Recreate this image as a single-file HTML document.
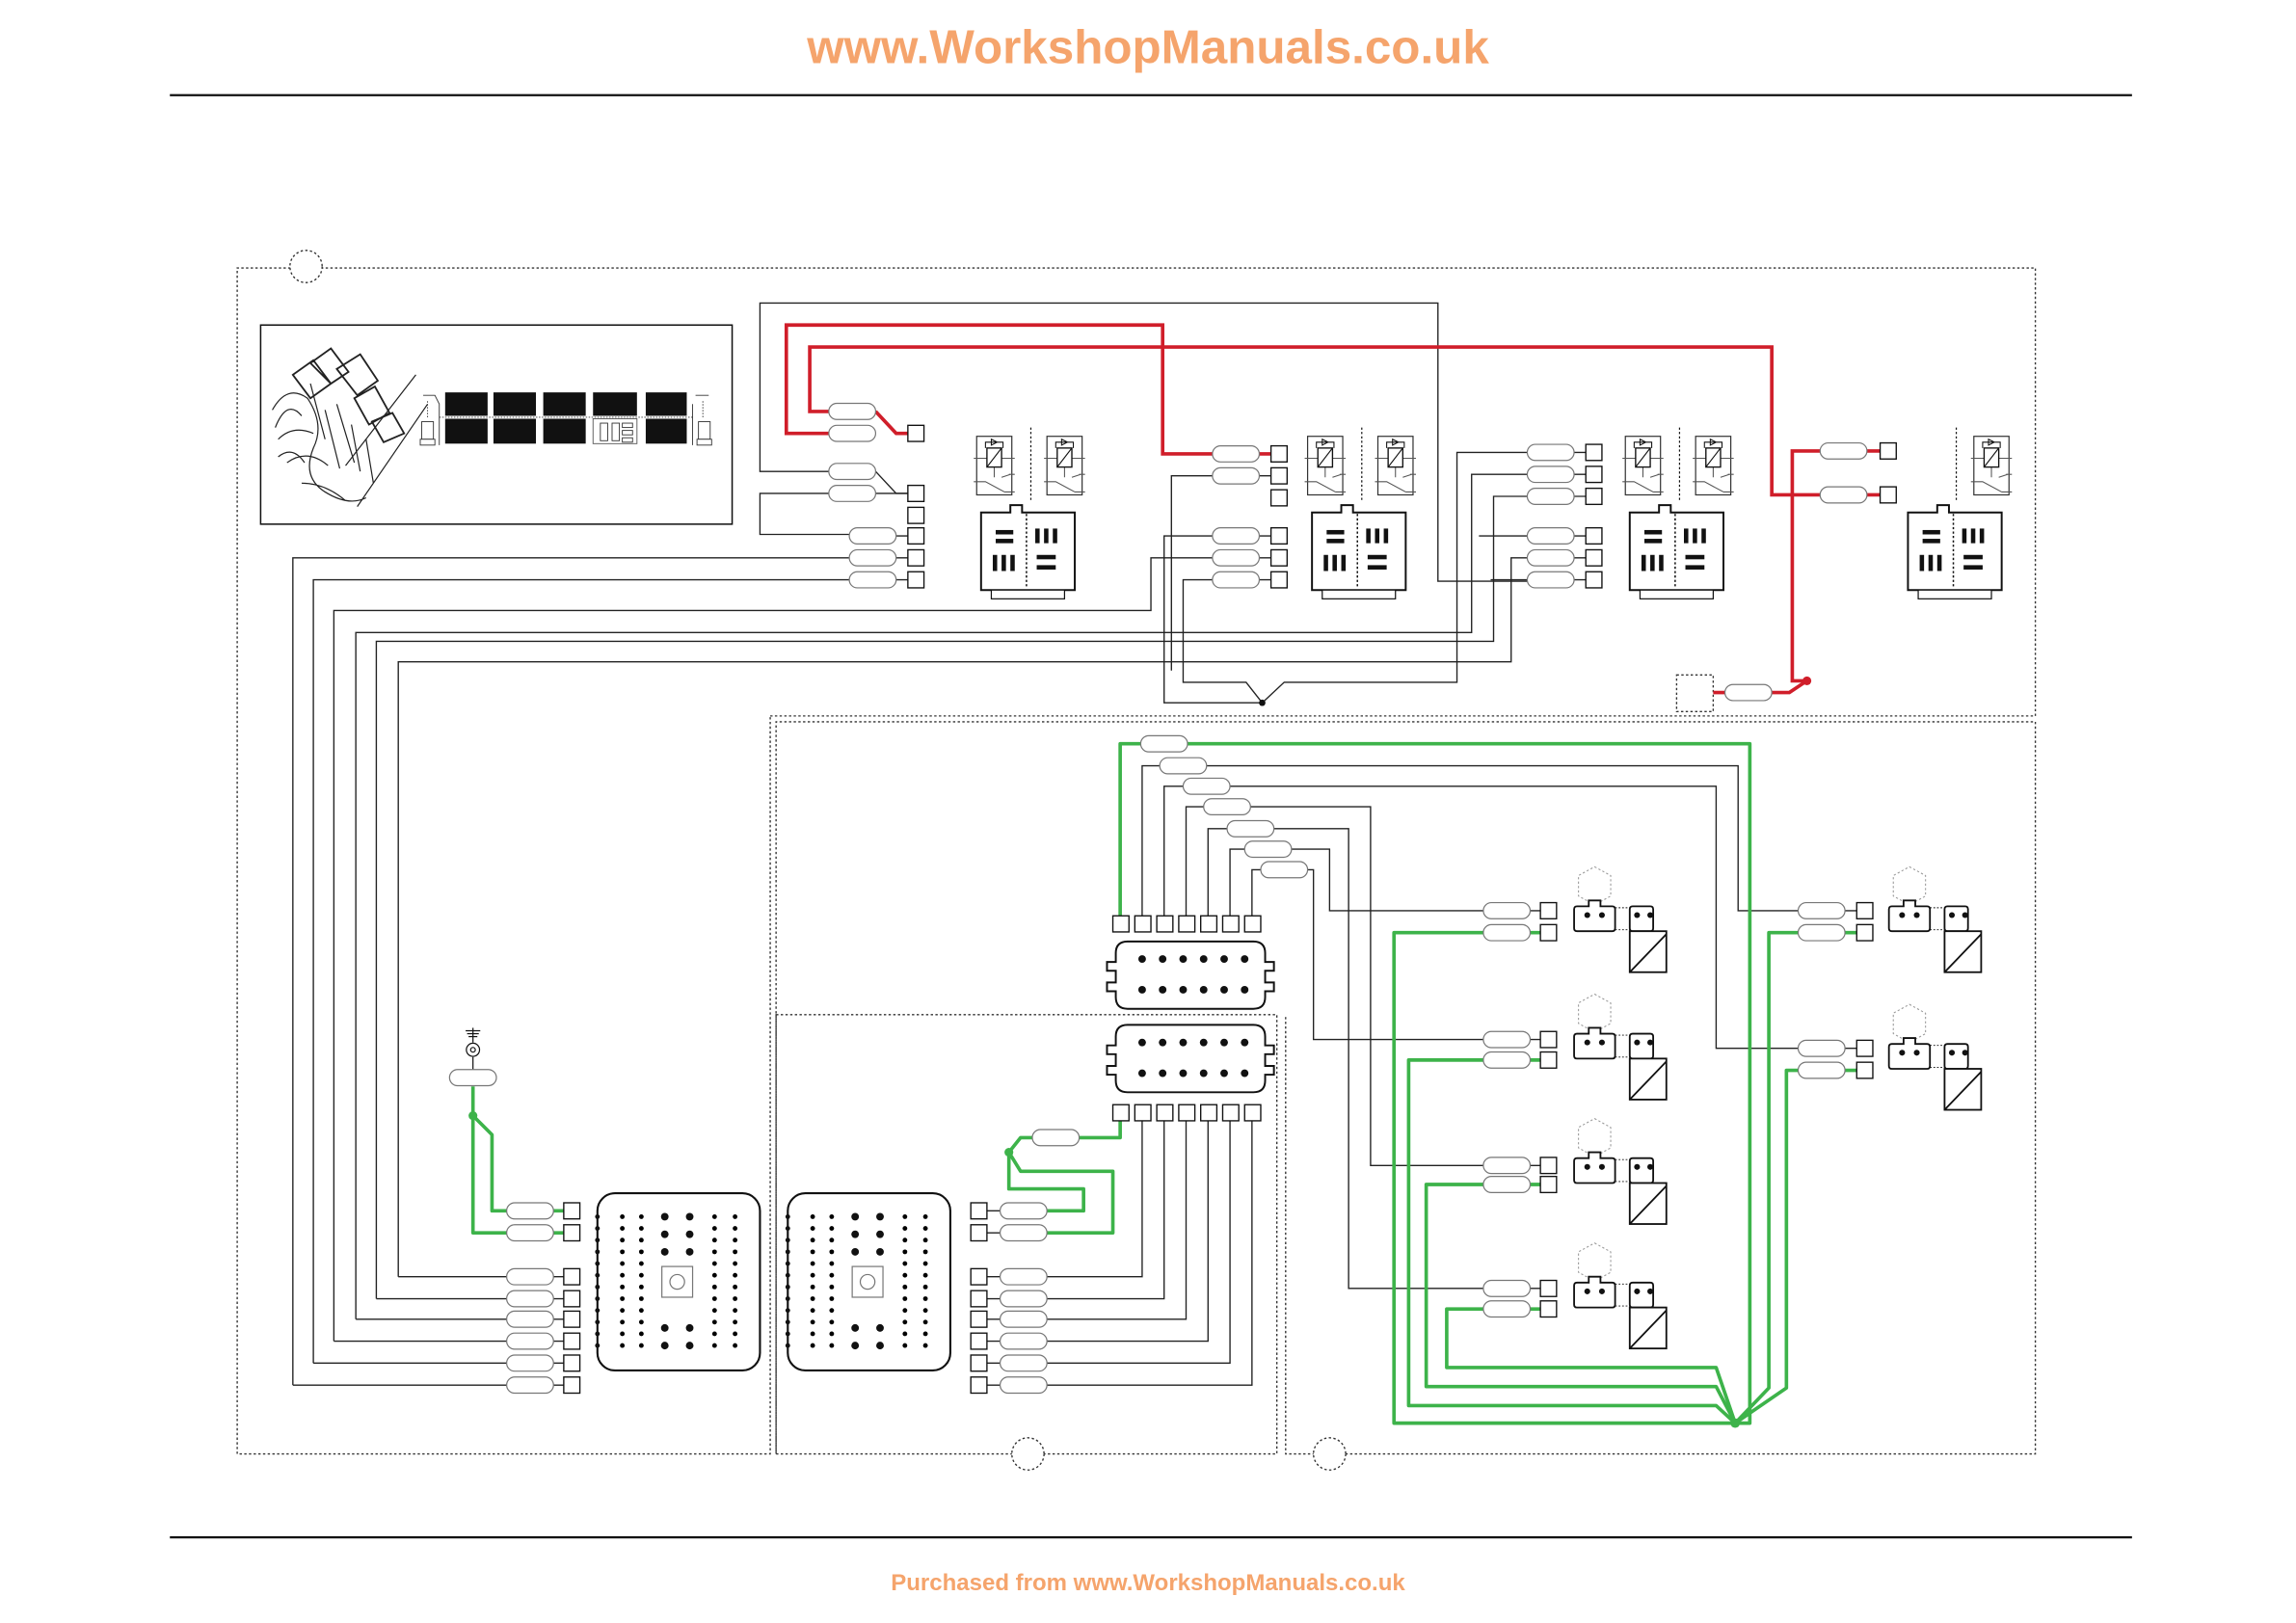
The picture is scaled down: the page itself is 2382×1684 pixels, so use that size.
<!DOCTYPE html>
<html><head><meta charset="utf-8"><style>
html,body{margin:0;padding:0;background:#fff;}
svg{display:block;}
</style></head><body>
<svg width="2382" height="1684" viewBox="0 0 1568 1108.5" preserveAspectRatio="none" xmlns="http://www.w3.org/2000/svg" font-family="Liberation Sans, Arial, sans-serif">
<defs>
<symbol id="pill" overflow="visible"><rect x="0" y="-5.5" width="32" height="11" rx="5.5" fill="#fff" stroke="#777" stroke-width="0.8"/></symbol>
<symbol id="sq" overflow="visible"><rect x="0" y="-5.5" width="11" height="11" fill="#fff" stroke="#111" stroke-width="0.9"/></symbol>
<symbol id="relay" overflow="visible">
<rect x="0" y="0" width="24" height="40" fill="#fff" stroke="#333" stroke-width="0.8"/>
<path d="M-2,15H7M17,15H26M12,21V28M-2,31H6L19,38M17,28L23,26M19,38H26M22,26H26" stroke="#555" stroke-width="0.7" fill="none"/>
<rect x="7" y="8" width="10" height="13" fill="#fff" stroke="#111" stroke-width="0.9"/>
<path d="M7,21L17,8M6,8V4H18V8M10,2L14,4L10,6Z" stroke="#111" stroke-width="0.7" fill="none"/>
</symbol>
<symbol id="base" overflow="visible">
<path d="M0,5H20V0H28V5H64V58H0Z" fill="#fff" stroke="#111" stroke-width="1.3"/>
<line x1="31" y1="6" x2="31" y2="57" stroke="#111" stroke-width="1" stroke-dasharray="1.5,1.5"/>
<rect x="10" y="17" width="12" height="3" fill="#111"/><rect x="10" y="23" width="12" height="3" fill="#111"/>
<rect x="37" y="16" width="3" height="10" fill="#111"/><rect x="43" y="16" width="3" height="10" fill="#111"/><rect x="49" y="16" width="3" height="10" fill="#111"/>
<rect x="8" y="34" width="3" height="11" fill="#111"/><rect x="14" y="34" width="3" height="11" fill="#111"/><rect x="20" y="34" width="3" height="11" fill="#111"/>
<rect x="38" y="34" width="13" height="3" fill="#111"/><rect x="38" y="41" width="13" height="3" fill="#111"/>
<rect x="7" y="58" width="50" height="6" fill="#fff" stroke="#111" stroke-width="0.8"/>
</symbol>
<symbol id="motor" overflow="visible">
<polygon points="0,-28 11,-22 11,-8 0,-2 -11,-8 -11,-22" fill="none" stroke="#999" stroke-width="0.7" stroke-dasharray="1.5,1.5"/>
<path d="M-12,-1H-4V-5H4V-1H12Q14,-1 14,1V14Q14,16 12,16H-12Q-14,16 -14,14V1Q-14,-1 -12,-1Z" fill="#fff" stroke="#111" stroke-width="1.2"/>
<circle cx="-5" cy="5" r="2" fill="#111"/><circle cx="5" cy="5" r="2" fill="#111"/>
<path d="M26,-1H38Q40,-1 40,1V14Q40,16 38,16H26Q24,16 24,14V1Q24,-1 26,-1Z" fill="#fff" stroke="#111" stroke-width="1.2"/>
<circle cx="29" cy="5" r="2" fill="#111"/><circle cx="38" cy="5" r="2" fill="#111"/>
<path d="M14,0H24M14,15H24" stroke="#111" stroke-width="0.6" stroke-dasharray="1.2,1.2"/>
<rect x="24" y="16" width="25" height="28" fill="#fff" stroke="#111" stroke-width="1.2"/>
<line x1="24" y1="44" x2="49" y2="18" stroke="#111" stroke-width="1.2"/>
</symbol>
<symbol id="plug" overflow="visible">
<path d="M10,0H96Q104,0 104,8V14H110V20H104V28H110V34H104V38Q104,46 96,46H10Q2,46 2,38V34H-4V28H2V20H-4V14H2V8Q2,0 10,0Z" fill="#fff" stroke="#111" stroke-width="1.3"/>
<g fill="#111"><circle cx="20" cy="12" r="2.6"/><circle cx="34" cy="12" r="2.6"/><circle cx="48" cy="12" r="2.6"/><circle cx="62" cy="12" r="2.6"/><circle cx="76" cy="12" r="2.6"/><circle cx="90" cy="12" r="2.6"/>
<circle cx="20" cy="33" r="2.6"/><circle cx="34" cy="33" r="2.6"/><circle cx="48" cy="33" r="2.6"/><circle cx="62" cy="33" r="2.6"/><circle cx="76" cy="33" r="2.6"/><circle cx="90" cy="33" r="2.6"/></g>
</symbol>
<symbol id="ecu" overflow="visible">
<rect x="0" y="0" width="111" height="121" rx="12" fill="#fff" stroke="#111" stroke-width="1.4"/>
<g fill="#111">
<g id="col"><circle cx="0" cy="16" r="1.6"/><circle cx="0" cy="24" r="1.6"/><circle cx="0" cy="32" r="1.6"/><circle cx="0" cy="40" r="1.6"/><circle cx="0" cy="48" r="1.6"/><circle cx="0" cy="56" r="1.6"/><circle cx="0" cy="64" r="1.6"/><circle cx="0" cy="72" r="1.6"/><circle cx="0" cy="80" r="1.6"/><circle cx="0" cy="88" r="1.6"/><circle cx="0" cy="96" r="1.6"/><circle cx="0" cy="104" r="1.6"/></g>
</g>
<use href="#col" x="17"/><use href="#col" x="30"/><use href="#col" x="80"/><use href="#col" x="94"/>
<g fill="#111"><circle cx="46" cy="16" r="2.6"/><circle cx="63" cy="16" r="2.6"/><circle cx="46" cy="28" r="2.6"/><circle cx="63" cy="28" r="2.6"/><circle cx="46" cy="40" r="2.6"/><circle cx="63" cy="40" r="2.6"/><circle cx="46" cy="92" r="2.6"/><circle cx="63" cy="92" r="2.6"/><circle cx="46" cy="104" r="2.6"/><circle cx="63" cy="104" r="2.6"/></g>
<rect x="44" y="50" width="21" height="21" fill="#fff" stroke="#777" stroke-width="0.8"/><circle cx="54.5" cy="60.5" r="5" fill="none" stroke="#777" stroke-width="0.8"/>
</symbol>
</defs>

<text x="784" y="43" text-anchor="middle" font-size="32.5" font-weight="bold" fill="#f5a46c">www.WorkshopManuals.co.uk</text>
<line x1="116" y1="65" x2="1456" y2="65" stroke="#111" stroke-width="1.5"/>
<line x1="116" y1="1050" x2="1456" y2="1050" stroke="#111" stroke-width="1.5"/>
<text x="784" y="1086" text-anchor="middle" font-size="15.8" font-weight="bold" fill="#f5a46c">Purchased from www.WorkshopManuals.co.uk</text>

<g fill="none" stroke="#333" stroke-width="0.9" stroke-dasharray="1.6,1.6">
<path d="M526,489H1390V183H162V993H526V489"/>
<path d="M530,993V493H1390V993H878V693"/>
<rect x="530" y="693" width="342" height="300"/>
<rect x="1145" y="461" width="25" height="25"/>
</g>
<g fill="#fff" stroke="#333" stroke-width="0.9" stroke-dasharray="1.6,1.6">
<circle cx="209" cy="182" r="11"/><circle cx="702" cy="993" r="11"/><circle cx="908" cy="993" r="11"/>
</g>

<rect x="178" y="222" width="322" height="136" fill="#fff" stroke="#111" stroke-width="1"/>
<g fill="none" stroke="#222" stroke-width="0.8">
<path d="M200,256L214,246L226,262L212,272ZM212,248L226,238L238,254L226,262ZM230,252L246,242L258,260L244,270ZM242,272L256,264L266,282L252,290ZM254,288L268,282L276,296L262,302Z" fill="#fff" stroke-width="1.2"/>
<path d="M186,280Q196,262 210,272Q222,290 214,306Q206,326 222,336Q238,346 250,340M190,300Q200,290 214,296M196,316Q210,306 224,318M206,330Q222,330 236,342M284,256L236,318M292,276L244,346M222,280L232,320M230,276L242,316M240,290L246,322M212,262L222,300M250,300L255,330M188,292Q196,272 206,284M190,312Q200,304 208,316"/>
</g>
<g fill="#111">
<rect x="304" y="268" width="29" height="16"/><rect x="337" y="268" width="29" height="16"/><rect x="371" y="268" width="29" height="16"/><rect x="405" y="268" width="30" height="16"/><rect x="441" y="268" width="28" height="16"/>
<rect x="304" y="286" width="29" height="17"/><rect x="337" y="286" width="29" height="17"/><rect x="371" y="286" width="29" height="17"/><rect x="441" y="286" width="28" height="17"/>
</g>
<rect x="405" y="286" width="30" height="17" fill="#fff" stroke="#555" stroke-width="0.6"/>
<g stroke="#333" stroke-width="0.6" fill="#fff">
<rect x="410" y="289" width="5" height="12"/><rect x="418" y="289" width="5" height="12"/><rect x="425" y="289" width="7" height="3"/><rect x="425" y="294" width="7" height="3"/><rect x="425" y="299" width="7" height="3"/>
<rect x="288" y="288" width="8" height="12"/><rect x="477" y="288" width="8" height="12"/>
<rect x="287" y="300" width="10" height="4"/><rect x="476" y="300" width="10" height="4"/>
<path d="M289,270H297L300,276V304M475,270H484M473,276V304" fill="none"/>
<path d="M292,274V286M480,274V286" stroke-dasharray="1,1" fill="none"/>
<line x1="300" y1="285" x2="474" y2="285" stroke-dasharray="1,1"/>
</g>

<g fill="none" stroke="#222" stroke-width="0.9">
<path d="M566,322H519V207H982V397H1043"/>
<path d="M566,337H519V365H580"/>
<path d="M598,322L612,337H620"/>
<path d="M598,337H620M612,366H620M612,381H620M612,396H620"/>
<path d="M200,946V381H580"/>
<path d="M214,931V396H580"/>
<path d="M228,916V417H786V381H828"/>
<path d="M243,901V432H1005V324H1043"/>
<path d="M257,887V438H1020V339H1043"/>
<path d="M272,872V452H1032V381H1043"/>
<path d="M862,480L851,466H808V396H828"/>
<path d="M862,480H795V366H828"/>
<path d="M862,480L877,466H995V309H1043"/>
<path d="M1010,366H1043M1018,396H1043"/>
<path d="M860,310H868M860,325H868M860,366H868M860,381H868M860,396H868"/>
<path d="M828,325H800V458"/>
<path d="M1075,309H1083M1075,324H1083M1075,339H1083M1075,366H1083M1075,381H1083M1075,396H1083"/>
</g>
<circle cx="862" cy="480" r="2.2" fill="#111"/>

<g fill="none" stroke="#d01e2a" stroke-width="2.4">
<path d="M566,296H537V222H794V310H828"/>
<path d="M566,281H553V237H1210V338H1243"/>
<path d="M598,281L612,296H620"/>
<path d="M860,310H868"/>
<path d="M1243,308H1224V465L1234,465"/>
<path d="M1275,308H1284M1275,338H1284"/>
<path d="M1234,465L1222,473H1210"/>
<path d="M1178,473H1170"/>
</g>
<circle cx="1234" cy="465" r="3" fill="#d01e2a"/>

<use href="#pill" x="566" y="281"/><use href="#pill" x="566" y="296"/><use href="#pill" x="566" y="322"/><use href="#pill" x="566" y="337"/>
<use href="#pill" x="580" y="366"/><use href="#pill" x="580" y="381"/><use href="#pill" x="580" y="396"/>
<use href="#sq" x="620" y="296"/><use href="#sq" x="620" y="337"/><use href="#sq" x="620" y="352"/><use href="#sq" x="620" y="366"/><use href="#sq" x="620" y="381"/><use href="#sq" x="620" y="396"/>
<use href="#pill" x="828" y="310"/><use href="#pill" x="828" y="325"/><use href="#pill" x="828" y="366"/><use href="#pill" x="828" y="381"/><use href="#pill" x="828" y="396"/>
<use href="#sq" x="868" y="310"/><use href="#sq" x="868" y="325"/><use href="#sq" x="868" y="340"/><use href="#sq" x="868" y="366"/><use href="#sq" x="868" y="381"/><use href="#sq" x="868" y="396"/>
<use href="#pill" x="1043" y="309"/><use href="#pill" x="1043" y="324"/><use href="#pill" x="1043" y="339"/><use href="#pill" x="1043" y="366"/><use href="#pill" x="1043" y="381"/><use href="#pill" x="1043" y="396"/>
<use href="#sq" x="1083" y="309"/><use href="#sq" x="1083" y="324"/><use href="#sq" x="1083" y="339"/><use href="#sq" x="1083" y="366"/><use href="#sq" x="1083" y="381"/><use href="#sq" x="1083" y="396"/>
<use href="#pill" x="1243" y="308"/><use href="#pill" x="1243" y="338"/>
<use href="#sq" x="1284" y="308"/><use href="#sq" x="1284" y="338"/>
<use href="#pill" x="1178" y="473"/>

<use href="#relay" x="667" y="298"/><use href="#relay" x="715" y="298"/>
<use href="#relay" x="893" y="298"/><use href="#relay" x="941" y="298"/>
<use href="#relay" x="1110" y="298"/><use href="#relay" x="1158" y="298"/>
<use href="#relay" x="1348" y="298"/>
<g stroke="#111" stroke-width="0.8" stroke-dasharray="1.5,1.5">
<line x1="704" y1="292" x2="704" y2="342"/><line x1="930" y1="292" x2="930" y2="342"/><line x1="1147" y1="292" x2="1147" y2="342"/><line x1="1336" y1="292" x2="1336" y2="342"/>
</g>
<use href="#base" x="670" y="345"/><use href="#base" x="896" y="345"/><use href="#base" x="1113" y="345"/><use href="#base" x="1303" y="345"/>

<g fill="none" stroke="#222" stroke-width="0.9">
<path d="M780,626V523H792M824,523H1187V622H1228"/>
<path d="M795,626V537H808M840,537H1172V716H1228"/>
<path d="M810,626V551H822M854,551H936V796H1013"/>
<path d="M825,626V566H838M870,566H921V880H1013"/>
<path d="M840,626V580H850M882,580H908V622H1013"/>
<path d="M855,626V594H861M893,594H897V710H1013"/>
<path d="M1045,622H1052M1045,710H1052M1045,796H1052M1045,880H1052M1260,622H1268M1260,716H1268"/>
<path d="M780,765V872H715M795,765V887H715M810,765V901H715M825,765V916H715M840,765V931H715M855,765V946H715"/>
<path d="M674,872H683M674,887H683M674,901H683M674,916H683M674,931H683M674,946H683M674,827H683M674,842H683"/>
<path d="M378,872H385M378,887H385M378,901H385M378,916H385M378,931H385M378,946H385"/>
<path d="M272,872H346M257,887H346M243,901H346M228,916H346M214,931H346M200,946H346"/>
</g>

<g fill="none" stroke="#3db34a" stroke-width="2.4" stroke-linejoin="round">
<path d="M765,626V508H779M811,508H1195V972L1185,972"/>
<path d="M1013,637H952V972H1185"/>
<path d="M1013,724H962V960H1172L1185,972"/>
<path d="M1013,809H974V947H1172L1185,972"/>
<path d="M1013,894H988V934H1172L1185,972"/>
<path d="M1228,637H1208V948L1185,972"/>
<path d="M1228,731H1220V948L1185,972"/>
<path d="M1045,637H1052M1045,724H1052M1045,809H1052M1045,894H1052M1260,637H1268M1260,731H1268"/>
<path d="M765,765V777H737M705,777H697L689,787"/>
<path d="M689,787L697,800H760V842H715"/>
<path d="M689,787V812H740V827H715"/>
<path d="M323,742V762V842H346M323,762L336,775V827H346"/>
<path d="M378,827H385M378,842H385"/>
</g>
<circle cx="1185" cy="972" r="3.2" fill="#3db34a"/>
<circle cx="689" cy="787" r="3" fill="#3db34a"/>
<circle cx="323" cy="762" r="3" fill="#3db34a"/>

<g stroke="#111" stroke-width="0.8" fill="none">
<line x1="323" y1="702" x2="323" y2="712"/><line x1="318" y1="704" x2="328" y2="704"/><line x1="319" y1="706" x2="327" y2="706"/><line x1="320" y1="708" x2="326" y2="708"/>
<circle cx="323" cy="717" r="4.5"/><circle cx="323" cy="717" r="1.6"/>
<line x1="323" y1="722" x2="323" y2="731"/>
</g>
<use href="#pill" x="307" y="736"/>

<use href="#pill" x="779" y="508"/><use href="#pill" x="792" y="523"/><use href="#pill" x="808" y="537"/><use href="#pill" x="822" y="551"/><use href="#pill" x="838" y="566"/><use href="#pill" x="850" y="580"/><use href="#pill" x="861" y="594"/>
<use href="#sq" x="760" y="631"/><use href="#sq" x="775" y="631"/><use href="#sq" x="790" y="631"/><use href="#sq" x="805" y="631"/><use href="#sq" x="820" y="631"/><use href="#sq" x="835" y="631"/><use href="#sq" x="850" y="631"/>
<use href="#plug" x="760" y="643"/>
<use href="#plug" x="760" y="700"/>
<use href="#sq" x="760" y="760"/><use href="#sq" x="775" y="760"/><use href="#sq" x="790" y="760"/><use href="#sq" x="805" y="760"/><use href="#sq" x="820" y="760"/><use href="#sq" x="835" y="760"/><use href="#sq" x="850" y="760"/>
<use href="#pill" x="705" y="777"/>

<use href="#pill" x="1013" y="622"/><use href="#pill" x="1013" y="637"/><use href="#sq" x="1052" y="622"/><use href="#sq" x="1052" y="637"/>
<use href="#pill" x="1013" y="710"/><use href="#pill" x="1013" y="724"/><use href="#sq" x="1052" y="710"/><use href="#sq" x="1052" y="724"/>
<use href="#pill" x="1013" y="796"/><use href="#pill" x="1013" y="809"/><use href="#sq" x="1052" y="796"/><use href="#sq" x="1052" y="809"/>
<use href="#pill" x="1013" y="880"/><use href="#pill" x="1013" y="894"/><use href="#sq" x="1052" y="880"/><use href="#sq" x="1052" y="894"/>
<use href="#pill" x="1228" y="622"/><use href="#pill" x="1228" y="637"/><use href="#sq" x="1268" y="622"/><use href="#sq" x="1268" y="637"/>
<use href="#pill" x="1228" y="716"/><use href="#pill" x="1228" y="731"/><use href="#sq" x="1268" y="716"/><use href="#sq" x="1268" y="731"/>

<use href="#motor" x="1089" y="620"/><use href="#motor" x="1089" y="707"/><use href="#motor" x="1089" y="792"/><use href="#motor" x="1089" y="877"/>
<use href="#motor" x="1304" y="620"/><use href="#motor" x="1304" y="714"/>

<use href="#ecu" x="408" y="815"/><use href="#ecu" x="538" y="815"/>
<use href="#pill" x="346" y="827"/><use href="#pill" x="346" y="842"/><use href="#pill" x="346" y="872"/><use href="#pill" x="346" y="887"/><use href="#pill" x="346" y="901"/><use href="#pill" x="346" y="916"/><use href="#pill" x="346" y="931"/><use href="#pill" x="346" y="946"/>
<use href="#sq" x="385" y="827"/><use href="#sq" x="385" y="842"/><use href="#sq" x="385" y="872"/><use href="#sq" x="385" y="887"/><use href="#sq" x="385" y="901"/><use href="#sq" x="385" y="916"/><use href="#sq" x="385" y="931"/><use href="#sq" x="385" y="946"/>
<use href="#sq" x="663" y="827"/><use href="#sq" x="663" y="842"/><use href="#sq" x="663" y="872"/><use href="#sq" x="663" y="887"/><use href="#sq" x="663" y="901"/><use href="#sq" x="663" y="916"/><use href="#sq" x="663" y="931"/><use href="#sq" x="663" y="946"/>
<use href="#pill" x="683" y="827"/><use href="#pill" x="683" y="842"/><use href="#pill" x="683" y="872"/><use href="#pill" x="683" y="887"/><use href="#pill" x="683" y="901"/><use href="#pill" x="683" y="916"/><use href="#pill" x="683" y="931"/><use href="#pill" x="683" y="946"/>
</svg>
</body></html>
